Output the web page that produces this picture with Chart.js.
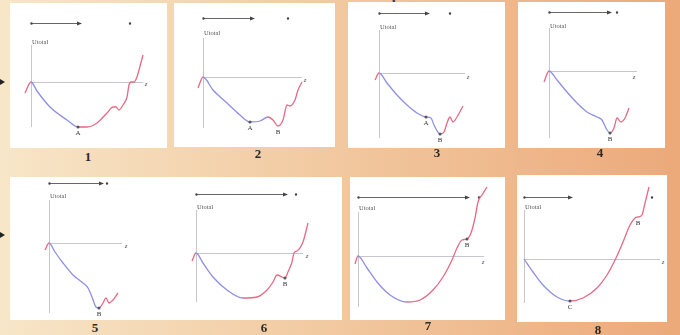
<!DOCTYPE html>
<html>
<head>
<meta charset="utf-8">
<script src="https://cdn.jsdelivr.net/npm/chart.js@4.4.1/dist/chart.umd.min.js"></script>
<style>
    html, body { margin: 0; padding: 0; }
    body {
        width: 680px; height: 335px; overflow: hidden; position: relative;
        background: linear-gradient(90deg, #f7e6c8 0%, #f2cba3 45%, #eca97a 100%);
        font-family: "Liberation Serif", serif;
    }
    .title {
        position: absolute; left: 228px; top: -15px;
        font: bold 16px "Liberation Sans", sans-serif; color: #3b3468; white-space: nowrap;
    }
    .panel { position: absolute; background: #fff; }
    .panel canvas { display: block; }
    .num {
        position: absolute; transform: translate(-50%, -50%);
        font: bold 13px "Liberation Serif", serif; color: #2a2a2a;
    }
    .tri {
        position: absolute; width: 0; height: 0;
        border-top: 3px solid transparent; border-bottom: 3px solid transparent;
        border-left: 5px solid #222;
    }
</style>
</head>
<body>
<div class="title">Evolution of the total potentials</div>
<div class="tri" style="left:0; top:79px"></div>
<div class="tri" style="left:0; top:232px"></div>

<script>
// Utotal(z) (z = 0 at the axis origin)
const z1 = [-0.6, 0, 0.6, 1.9, 3.6, 4.7, 5.6, 6.6, 7.6, 8.2, 8.5, 8.8, 9.2, 9.6, 9.8, 10.0, 10.3, 10.6, 10.8, 11.2];
const u1 = [-1.1, 0, -0.9, -2.5, -3.8, -4.5, -4.5, -4.1, -3.1, -2.5, -2.5, -2.8, -2.3, -1.5, -0.3, 0, 0, 0.5, 1.2, 2.7];

const z2 = [-0.5, 0, 1.0, 2.4, 3.7, 4.7, 5.7, 6.5, 7.0, 7.5, 8.0, 8.4, 8.7, 9.2, 9.5, 9.9];
const u2 = [-1.1, 0, -1.3, -2.6, -3.8, -4.5, -4.4, -4.0, -4.3, -4.9, -4.3, -2.8, -2.9, -2.3, -1.3, -0.5];

const z3 = [-0.4, 0, 0.8, 1.8, 2.8, 3.8, 4.7, 5.2, 5.5, 6.1, 6.5, 6.8, 7.1, 7.4, 7.8, 8.4];
const u3 = [-0.7, 0, -1.0, -2.2, -3.2, -4.0, -4.4, -4.5, -5.2, -6.1, -5.9, -5.0, -4.4, -4.9, -4.4, -3.3];

const z4 = [-0.5, 0, 0.8, 1.8, 2.8, 3.8, 4.8, 5.3, 5.8, 6.1, 6.5, 6.8, 7.2, 7.6, 8.0];
const u4 = [-1.1, 0, -0.9, -2.1, -3.2, -4.1, -4.6, -4.9, -5.9, -6.2, -5.7, -4.7, -5.1, -4.7, -3.7];

const z5 = [-0.4, 0, 0.6, 1.4, 2.4, 3.4, 3.9, 4.3, 4.7, 5.0, 5.4, 5.7, 6.0, 6.4, 6.9];
const u5 = [-0.7, 0, -0.9, -2.0, -3.2, -4.0, -4.5, -5.4, -6.4, -6.5, -6.0, -5.5, -6.0, -5.7, -5.0];

const z6 = [-0.4, 0, 0.7, 1.7, 3.1, 4.7, 6.1, 7.1, 7.7, 8.1, 8.6, 8.9, 9.2, 9.6, 9.8, 10.1, 10.7, 11.2];
const u6 = [-0.8, 0, -1.0, -2.4, -3.7, -4.5, -4.4, -3.7, -2.9, -2.2, -2.4, -2.5, -1.9, -0.9, 0, 0.2, 1.1, 3.0];

const z7 = [-0.3, 0, 0.9, 1.9, 3.2, 4.9, 6.2, 7.5, 8.5, 9.4, 9.9, 10.4, 10.9, 11.3, 11.7, 12.0, 12.4, 12.9];
const u7 = [-0.8, 0, -1.2, -2.6, -3.9, -4.6, -4.4, -3.4, -2.1, -0.4, 0.8, 1.6, 1.7, 2.3, 3.8, 5.4, 6.1, 6.9];

const z8 = [0, 0.9, 1.9, 3.3, 4.6, 5.9, 7.3, 8.3, 9.2, 9.9, 10.6, 11.1, 11.4, 11.8, 12.1, 12.5];
const u8 = [0, -1.3, -2.6, -3.8, -4.2, -3.9, -2.9, -1.6, 0.1, 1.7, 3.4, 4.1, 4.2, 4.4, 5.6, 7.2];

// labelled minima: [point index, name, dot shown]
const marks1 = [[5, 'A', true]];
const marks2 = [[5, 'A', true], [9, 'B', false]];
const marks3 = [[6, 'A', true], [9, 'B', true]];
const marks4 = [[9, 'B', true]];
const marks5 = [[9, 'B', true]];
const marks6 = [[11, 'B', true]];
const marks7 = [[12, 'B', true]];
const marks8 = [[4, 'C', true], [12, 'B', false]];

// z where the curve turns from blue to red
const splits = [4.7, 6.5, 6.1, 6.1, 5.0, 4.7, 4.9, 4.6];

const BLUE = '#8f8fe6';
const RED = '#e66a84';

// panel boxes and axis ranges (layout only)
const panels = [
    { n: '1', z: z1, u: u1, marks: marks1, left: 10,  top: 3,   w: 157, h: 145, xr: [-2.1, 13.6], yr: [-6.6, 7.9], xEnd: 11.2, yAx: [-4.5, 3.7], lab: 4.0, zLab: [11.5, -0.2], arrow: [5.9, 5.1], dot: 9.9,  num: [88, 157] },
    { n: '2', z: z2, u: u2, marks: marks2, left: 174, top: 3,   w: 161, h: 144, xr: [-2.9, 13.2], yr: [-7.0, 7.4], xEnd: 9.9,  yAx: [-5.1, 3.9], lab: 4.4, zLab: [10.2, -0.3], arrow: [5.9, 5.2], dot: 8.5,  num: [258, 154] },
    { n: '3', z: z3, u: u3, marks: marks3, left: 348, top: 2,   w: 157, h: 146, xr: [-3.1, 12.6], yr: [-7.5, 7.1], xEnd: 8.6,  yAx: [-6.5, 4.3], lab: 4.6, zLab: [8.9, -0.4],  arrow: [6.0, 5.1], dot: 7.1,  num: [437, 153] },
    { n: '4', z: z4, u: u4, marks: marks4, left: 518, top: 2,   w: 147, h: 146, xr: [-3.1, 11.6], yr: [-7.7, 6.9], xEnd: 8.8,  yAx: [-6.7, 4.3], lab: 4.5, zLab: [8.5, -0.6],  arrow: [5.9, 6.3], dot: 6.8,  num: [600, 153] },
    { n: '5', z: z5, u: u5, marks: marks5, left: 10,  top: 177, w: 167, h: 143, xr: [-3.9, 12.8], yr: [-7.7, 6.6], xEnd: 7.3,  yAx: [-7.0, 4.3], lab: 4.7, zLab: [7.7, -0.3],  arrow: [6.0, 5.5], dot: 5.8,  num: [95, 328] },
    { n: '6', z: z6, u: u6, marks: marks6, left: 177, top: 177, w: 165, h: 143, xr: [-1.9, 14.6], yr: [-6.7, 7.6], xEnd: 10.7, yAx: [-4.9, 4.3], lab: 4.6, zLab: [11.1, -0.3], arrow: [5.9, 9.2], dot: 10.0, num: [264, 328] },
    { n: '7', z: z7, u: u7, marks: marks7, left: 350, top: 177, w: 155, h: 143, xr: [-0.8, 14.7], yr: [-6.4, 7.9], xEnd: 12.6, yAx: [-5.1, 4.4], lab: 4.8, zLab: [12.5, -0.6], arrow: [5.9, 11.2], dot: 12.1, num: [428, 326] },
    { n: '8', z: z8, u: u8, marks: marks8, left: 517, top: 175, w: 150, h: 147, xr: [-0.7, 14.3], yr: [-6.3, 8.4], xEnd: 13.6, yAx: [-4.4, 4.9], lab: 5.2, zLab: [13.9, -0.3], arrow: [6.2, 4.9], dot: 12.8, num: [598, 330] }
];

panels.forEach((p, k) => makePanel(p, splits[k]));

function makePanel(p, split) {
    const wrap = document.createElement('div');
    wrap.className = 'panel';
    wrap.style.left = p.left + 'px';
    wrap.style.top = p.top + 'px';
    wrap.style.width = p.w + 'px';
    wrap.style.height = p.h + 'px';
    const canvas = document.createElement('canvas');
    canvas.width = p.w;
    canvas.height = p.h;
    wrap.appendChild(canvas);
    document.body.appendChild(wrap);

    const num = document.createElement('div');
    num.className = 'num';
    num.textContent = p.n;
    num.style.left = p.num[0] + 'px';
    num.style.top = p.num[1] + 'px';
    document.body.appendChild(num);

    const markIdx = p.marks.map(m => m[0]);

    // axes, arrow, labels
    const decor = {
        id: 'decor',
        beforeDatasetsDraw(chart) {
            const { ctx, scales: { x, y } } = chart;
            const x0 = Math.round(x.getPixelForValue(0)) + 0.5;
            const y0 = Math.round(y.getPixelForValue(0)) + 0.5;
            ctx.save();
            ctx.strokeStyle = '#c6c6d0';
            ctx.lineWidth = 1;
            ctx.beginPath();
            ctx.moveTo(x0, y.getPixelForValue(p.yAx[0]));
            ctx.lineTo(x0, y.getPixelForValue(p.yAx[1]));
            ctx.moveTo(x0, y0);
            ctx.lineTo(x.getPixelForValue(p.xEnd), y0);
            ctx.stroke();

            ctx.fillStyle = '#555';
            ctx.font = '6.5px "Liberation Serif"';
            ctx.textBaseline = 'middle';
            ctx.textAlign = 'left';
            ctx.fillText('Utotal', x0 + 0.5, y.getPixelForValue(p.lab));
            ctx.font = 'italic 7px "Liberation Serif"';
            ctx.textAlign = 'center';
            ctx.fillText('z', x.getPixelForValue(p.zLab[0]), y.getPixelForValue(p.zLab[1]));

            // arrow along the top
            const ay = Math.round(y.getPixelForValue(p.arrow[0])) + 0.5;
            const ax = x.getPixelForValue(p.arrow[1]);
            ctx.strokeStyle = '#666';
            ctx.beginPath();
            ctx.moveTo(x0, ay);
            ctx.lineTo(ax - 2, ay);
            ctx.stroke();
            ctx.fillStyle = '#444';
            ctx.beginPath();
            ctx.moveTo(ax, ay);
            ctx.lineTo(ax - 5, ay - 2);
            ctx.lineTo(ax - 5, ay + 2);
            ctx.closePath();
            ctx.fill();
            ctx.beginPath();
            ctx.arc(x0, ay, 1.2, 0, Math.PI * 2);
            ctx.arc(x.getPixelForValue(p.dot), ay, 1.2, 0, Math.PI * 2);
            ctx.fill();
            ctx.restore();
        },
        afterDatasetsDraw(chart) {
            const { ctx } = chart;
            const meta = chart.getDatasetMeta(0);
            ctx.save();
            ctx.fillStyle = '#333';
            ctx.font = '7px "Liberation Serif"';
            ctx.textAlign = 'center';
            ctx.textBaseline = 'middle';
            p.marks.forEach(m => {
                const pt = meta.data[m[0]];
                ctx.fillText(m[1], pt.x, pt.y + 6);
            });
            ctx.restore();
        }
    };

    new Chart(canvas, {
        type: 'line',
        data: {
            datasets: [{
                data: p.z.map((v, i) => ({ x: v, y: p.u[i] })),
                borderColor: BLUE,
                borderWidth: 1.3,
                cubicInterpolationMode: 'monotone',
                pointRadius: ctx => {
                    const j = markIdx.indexOf(ctx.dataIndex);
                    return j >= 0 && p.marks[j][2] ? 1.5 : 0;
                },
                pointBackgroundColor: '#555',
                pointBorderWidth: 0,
                segment: {
                    borderColor: ctx => (ctx.p0.parsed.x >= 0 && ctx.p1.parsed.x <= split) ? BLUE : RED
                }
            }]
        },
        options: {
            responsive: false,
            animation: false,
            events: [],
            layout: { padding: 0 },
            plugins: { legend: { display: false }, tooltip: { enabled: false } },
            scales: {
                x: { type: 'linear', display: false, min: p.xr[0], max: p.xr[1] },
                y: { display: false, min: p.yr[0], max: p.yr[1] }
            }
        },
        plugins: [decor]
    });
}
</script>
</body>
</html>
